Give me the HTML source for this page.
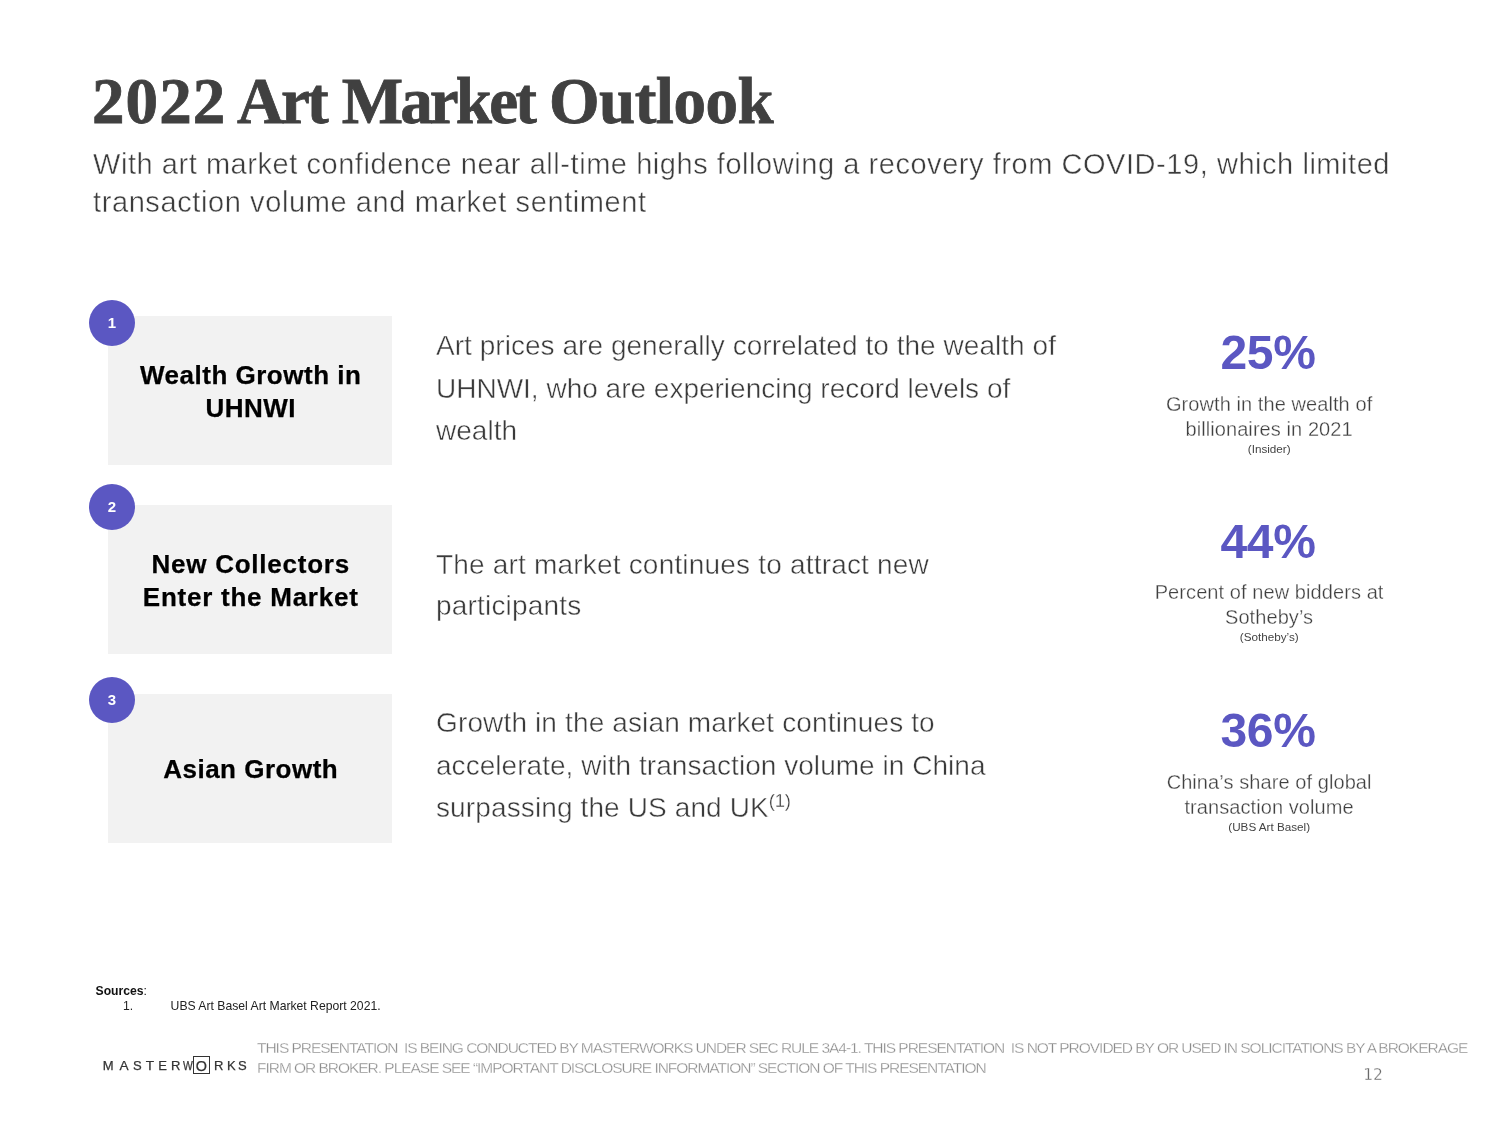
<!DOCTYPE html>
<html><head><meta charset="utf-8">
<style>
html,body{margin:0;padding:0;background:#fff;}
body{width:1500px;height:1124px;position:relative;overflow:hidden;font-family:"Liberation Sans",sans-serif;}
.abs{position:absolute;white-space:nowrap;}
.tw{top:63px;font-family:"Liberation Serif",serif;font-weight:bold;font-size:65px;line-height:76px;color:#404040;-webkit-text-stroke:0.8px #404040;}
#sub{left:93px;top:144.5px;font-size:29px;line-height:38.2px;color:#3c3c3c;letter-spacing:0.55px;-webkit-text-stroke:0.45px #fff;}
.box{position:absolute;left:108px;width:283.9px;height:148.7px;background:#f2f2f2;display:flex;align-items:center;justify-content:center;text-align:center;font-weight:bold;font-size:26px;line-height:33px;color:#000;letter-spacing:0.5px;padding-top:2.2px;padding-left:1.5px;box-sizing:border-box;-webkit-text-stroke:0.25px #000;}
.circ{position:absolute;left:89px;width:46px;height:46px;border-radius:50%;background:#5b57c2;color:#fff;font-weight:bold;font-size:15px;line-height:45px;text-align:center;}
.body{position:absolute;left:436px;font-size:28px;line-height:42.5px;color:#3a3a3a;white-space:nowrap;letter-spacing:0.04px;-webkit-text-stroke:0.45px #fff;}
.num{position:absolute;left:1118px;width:300px;text-align:center;font-weight:bold;font-size:48px;line-height:50px;color:#5b57c2;letter-spacing:-0.3px;}
.desc{position:absolute;left:1119.1px;width:300px;text-align:center;font-size:20px;line-height:25px;color:#404040;letter-spacing:0.08px;-webkit-text-stroke:0.3px #fff;}
.src{position:absolute;left:1119.2px;width:300px;text-align:center;font-size:11.7px;line-height:14px;color:#444;}
.lg{top:1056px;font-size:13px;line-height:20px;color:#333;letter-spacing:0;-webkit-text-stroke:0.25px #333;}
</style></head><body>
<div id="title"><span class="abs tw" id="t1" style="left:92px;letter-spacing:1.1px">2022</span> <span class="abs tw" id="t2" style="left:237px;letter-spacing:-2.9px">Art</span> <span class="abs tw" id="t3" style="left:341.7px;letter-spacing:-2.85px">Market</span> <span class="abs tw" id="t4" style="left:549px;letter-spacing:-0.5px">Outlook</span></div>
<div id="sub" class="abs">With art market confidence near all-time highs following a recovery from COVID-19, which limited<br><span style="letter-spacing:0.6px">transaction volume and market sentiment</span></div>

<div class="box" style="top:316.3px">Wealth Growth in<br>UHNWI</div>
<div class="box" style="top:505.1px;letter-spacing:0.75px">New Collectors<br>Enter the Market</div>
<div class="box" style="top:694px;padding-top:3px">Asian Growth</div>
<div class="circ" style="top:299.7px">1</div>
<div class="circ" style="top:484px">2</div>
<div class="circ" style="top:677px">3</div>

<div class="body" style="top:325px">Art prices are generally correlated to the wealth of<br><span style="letter-spacing:0">UHNWI, who are experiencing record levels of</span><br>wealth</div>
<div class="body" style="top:544px;line-height:41px;letter-spacing:0.19px">The art market continues to attract new<br>participants</div>
<div class="body" style="top:702px"><span style="letter-spacing:0.14px">Growth in the asian market continues to</span><br>accelerate, with transaction volume in China<br><span style="letter-spacing:0.12px">surpassing the US and UK</span><sup style="font-size:18.5px;line-height:0;vertical-align:10px;letter-spacing:-0.3px;-webkit-text-stroke:0.3px #fff">(1)</sup></div>

<div class="num" style="top:328px">25%</div>
<div class="desc" style="top:391.8px">Growth in the wealth of<br>billionaires in 2021</div>
<div class="src" style="top:442px">(Insider)</div>

<div class="num" style="top:517px">44%</div>
<div class="desc" style="top:580.1px">Percent of new bidders at<br>Sotheby’s</div>
<div class="src" style="top:630px">(Sotheby’s)</div>

<div class="num" style="top:706px">36%</div>
<div class="desc" style="top:770.3px">China’s share of global<br>transaction volume</div>
<div class="src" style="top:820px">(UBS Art Basel)</div>

<div class="abs" style="left:95.5px;top:983.6px;font-size:12.2px;line-height:14px;color:#111"><b>Sources</b>:</div>
<div class="abs" style="left:123px;top:998.6px;font-size:12.2px;line-height:14px;color:#222">1.</div>
<div class="abs" style="left:170.6px;top:998.6px;font-size:12.2px;line-height:14px;color:#222">UBS Art Basel Art Market Report 2021.</div>

<div id="logo"><span class="abs lg" style="left:108.1px;transform:translateX(-50%) scaleX(1)">M</span><span class="abs lg" style="left:123.7px;transform:translateX(-50%) scaleX(1.05)">A</span><span class="abs lg" style="left:137.3px;transform:translateX(-50%) scaleX(1)">S</span><span class="abs lg" style="left:149.7px;transform:translateX(-50%) scaleX(1.05)">T</span><span class="abs lg" style="left:162.7px;transform:translateX(-50%) scaleX(1)">E</span><span class="abs lg" style="left:175.6px;transform:translateX(-50%) scaleX(1)">R</span><span class="abs lg" style="left:188px;transform:translateX(-50%) scaleX(0.8)">W</span><span class="abs lg" style="left:201.3px;font-size:14.4px;transform:translateX(-50%) scaleX(1)">O</span><span class="abs lg" style="left:218.7px;transform:translateX(-50%) scaleX(1)">R</span><span class="abs lg" style="left:231.3px;transform:translateX(-50%) scaleX(1)">K</span><span class="abs lg" style="left:242.3px;transform:translateX(-50%) scaleX(1)">S</span></div><div class="abs" id="sq" style="left:193px;top:1056px;width:16.6px;height:17.6px;border:1.8px solid #333;box-sizing:border-box;"></div>
<div class="abs" id="disc" style="left:257px;top:1038.2px;font-size:15.5px;line-height:19.8px;color:#8c8c8c;letter-spacing:-1.03px;-webkit-text-stroke:0.3px #fff">THIS PRESENTATION&nbsp; IS BEING CONDUCTED BY MASTERWORKS UNDER SEC RULE 3A4-1. THIS PRESENTATION&nbsp; IS NOT PROVIDED BY OR USED IN SOLICITATIONS BY A BROKERAGE<br>FIRM OR BROKER. PLEASE SEE “IMPORTANT DISCLOSURE INFORMATION” SECTION OF THIS PRESENTATION</div>
<div class="abs" style="left:1363.2px;top:1065.2px;font-size:15.5px;line-height:20px;color:#6a6a6a;font-family:'DejaVu Sans',sans-serif;-webkit-text-stroke:0.3px #fff;">12</div>
</body></html>
